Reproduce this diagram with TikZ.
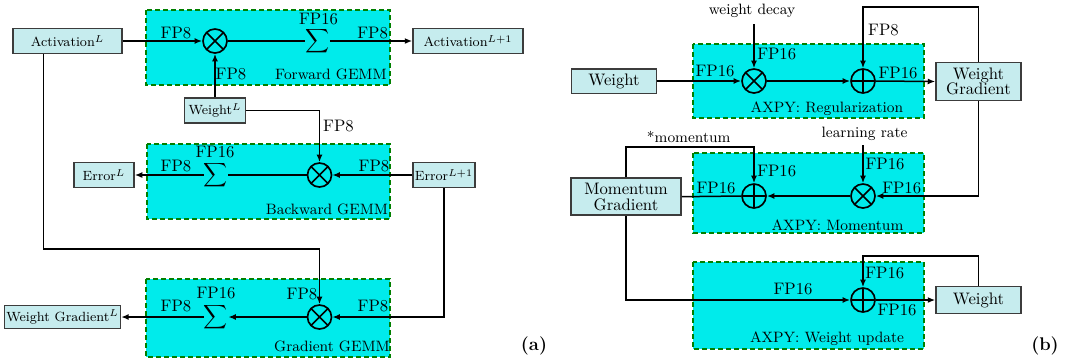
\documentclass[tikz,border=0pt]{standalone}
\usetikzlibrary{arrows.meta}
\definecolor{gemmfill}{RGB}{0,235,235}
\definecolor{gemmedge}{RGB}{0,128,0}
\definecolor{boxfill}{RGB}{198,236,238}
\definecolor{boxedge}{RGB}{60,60,60}
\tikzset{
  gemm/.style={draw=gemmedge, fill=gemmfill, line width=1.4pt, dash pattern=on 3pt off 1.8pt},
  blk/.style={draw=boxedge, fill=boxfill, line width=0.9pt, inner sep=1pt, align=center},
  sblk/.style={blk, font=\footnotesize},
  circ/.style={circle, draw, line width=1pt, minimum size=14.4pt, inner sep=0pt},
  otimesn/.style={circ, path picture={\draw[line width=1pt]
      (path picture bounding box.north west) -- (path picture bounding box.south east)
      (path picture bounding box.south west) -- (path picture bounding box.north east);}},
  oplusn/.style={circ, path picture={\draw[line width=1pt]
      (path picture bounding box.north) -- (path picture bounding box.south)
      (path picture bounding box.west) -- (path picture bounding box.east);}},
  sig/.style={inner sep=0pt},
  lab/.style={inner sep=0pt},
  glab/.style={inner sep=0pt, font=\small},
  conn/.style={line width=0.9pt},
  arr/.style={conn, -{Latex[length=4.5pt,width=3.6pt]}},
  panel/.style={inner sep=0pt, font=\bfseries\fontsize{11pt}{13pt}\selectfont},
}
\begin{document}
\begin{tikzpicture}[x=0.6pt, y=-0.6pt]
\useasboundingbox (0,0) rectangle (1070,360);
% ---------------- (a) ----------------
\draw[gemm] (146,10) rectangle (390,85);
\draw[gemm] (147,144) rectangle (390,219);
\draw[gemm] (146,279) rectangle (390,357);

\node[sblk, minimum width=65.4pt, minimum height=15pt] (actL) at (67.5,41) {Activation$^{L}$};
\node[sblk, minimum width=66pt, minimum height=15pt] (actL1) at (468,41) {Activation$^{L+1}$};
\node[sblk, minimum width=36.6pt, minimum height=15pt] (wL) at (215,110.5) {Weight$^{L}$};
\node[sblk, minimum width=36pt, minimum height=15pt] (errL) at (104,175) {Error$^{L}$};
\node[sblk, minimum width=37.2pt, minimum height=15pt] (errL1) at (444,175) {Error$^{L+1}$};
\node[sblk, minimum width=65.4pt, minimum height=13.8pt] (wgL) at (62.5,317) {Weight Gradient$^{L}$};

\node[otimesn] (fox) at (215,41) {};
\node[sig] (fsig) at (317.5,41) {$\displaystyle\sum$};
\node[otimesn] (box) at (319.5,175) {};
\node[sig] (bsig) at (216,175) {$\displaystyle\sum$};
\node[otimesn] (gox) at (319.5,317) {};
\node[sig] (gsig) at (216,317) {$\displaystyle\sum$};

\coordinate (a1) at (43.6,249);

\draw[arr] (actL.east) -- (fox.west);
\draw[conn] (fox.east) -- (fsig.west);
\draw[arr] (fsig.east) -- (actL1.west);
\draw[arr] (wL.north) -- (fox.south);
\draw[arr] (wL.east) -| (box.north);
\draw[arr] (errL1.west) -- (box.east);
\draw[conn] (box.west) -- (bsig.east);
\draw[arr] (bsig.west) -- (errL.east);
\draw[arr] (actL.south -| a1) -- (a1) -| (gox.north);
\draw[arr] (errL1.south) |- (gox.east);
\draw[arr] (gox.west) -- (gsig.east);
\draw[arr] (gsig.west) -- (wgL.east);

\node[lab] (l1) at (176,33) {FP8};
\node[lab] (l2) at (318.5,18.5) {FP16};
\node[lab] (l3) at (372.6,33) {FP8};
\node[lab] (l4) at (231,74) {FP8};
\node[glab] (g1) at (331,74) {Forward GEMM};
\node[lab] (l5) at (338.5,125.7) {FP8};
\node[lab] (l6) at (215,152) {FP16};
\node[lab] (l7) at (176,166) {FP8};
\node[lab] (l8) at (374,166) {FP8};
\node[glab] (g2) at (327,209) {Backward GEMM};
\node[lab] (l9) at (216,292.5) {FP16};
\node[lab] (l10) at (176,306) {FP8};
\node[lab] (l11) at (302,294) {FP8};
\node[lab] (l12) at (373,306) {FP8};
\node[glab] (g3) at (332,346) {Gradient GEMM};
\node[panel] (pa) at (534,346) {(a)};

% ---------------- (b) ----------------
\draw[gemm] (693,44) rectangle (924,118);
\draw[gemm] (693,153) rectangle (924,233);
\draw[gemm] (693,262) rectangle (924,349);

\node[blk, minimum width=51pt, minimum height=14.7pt] (weight) at (614,81) {Weight};
\node[blk, minimum width=51pt, minimum height=22.8pt, font=\fontsize{10pt}{9.2pt}\selectfont] (wgrad) at (978.5,81.5) {Weight\\Gradient};
\node[blk, minimum width=66pt, minimum height=22.2pt, font=\fontsize{10pt}{9.6pt}\selectfont] (mom) at (626,196.7) {Momentum\\Gradient};
\node[blk, minimum width=51pt, minimum height=16.2pt] (weight2) at (978.5,300) {Weight};

\node[otimesn] (rox) at (754,81) {};
\node[oplusn] (rop) at (863,81) {};
\node[otimesn] (mox) at (863,196) {};
\node[oplusn] (mop) at (754,196) {};
\node[oplusn] (uop) at (863,300) {};

\coordinate (wdc) at (754,24);
\coordinate (lrc) at (863,145);
\coordinate (t1) at (863,7);
\coordinate (t2) at (754,147);
\coordinate (t3) at (863,256);

\draw[arr] (weight.east) -- (rox.west);
\draw[arr] (wdc) -- (rox.north);
\draw[arr] (rox.east) -- (rop.west);
\draw[arr] (rop.east) -- (wgrad.west);
\draw[arr] (wgrad.north) |- (t1) -- (rop.north);
\draw[arr] (wgrad.south) |- (mox.east);
\draw[arr] (lrc) -- (mox.north);
\draw[arr] (mox.west) -- (mop.east);
\draw[conn] (mop.west) -- (mom.east);
\draw[arr] (mom.north) |- (t2) -- (mop.north);
\draw[arr] (mom.south) |- (uop.west);
\draw[arr] (uop.east) -- (weight2.west);
\draw[arr] (weight2.north) |- (t3) -- (uop.north);

\node[glab] (wd) at (752,11) {weight decay};
\node[glab] (lr) at (864.5,133.5) {learning rate};
\node[glab] (mt) at (688.7,137) {*momentum};
\node[lab] (r1) at (715,71) {FP16};
\node[lab] (r2) at (776.7,54) {FP16};
\node[lab] (r3) at (898,72.7) {FP16};
\node[lab] (r4) at (883.5,29.7) {FP8};
\node[glab] (h1) at (827,109) {AXPY: Regularization};
\node[lab] (r5) at (901.7,187.6) {FP16};
\node[lab] (r6) at (885,164) {FP16};
\node[lab] (r7) at (776.7,170.7) {FP16};
\node[lab] (r8) at (716,187.6) {FP16};
\node[glab] (h2) at (837.5,225) {AXPY: Momentum};
\node[lab] (r9) at (793,289) {FP16};
\node[lab] (r10) at (884.8,273) {FP16};
\node[lab] (r11) at (897,310) {FP16};
\node[glab] (h3) at (827,339) {AXPY: Weight update};
\node[panel] (pb) at (1045,346) {(b)};
\end{tikzpicture}
\end{document}
